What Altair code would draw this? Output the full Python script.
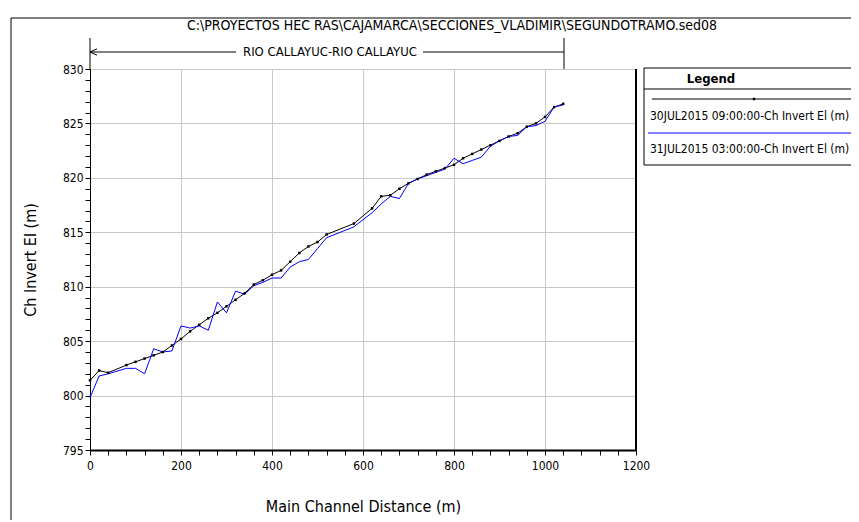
import altair as alt
import pandas as pd

# ---------------- data ----------------
stations = [0, 20, 40, 80, 100, 120, 140, 160, 180, 200,
            220, 240, 260, 280, 300, 320, 340, 360, 380, 400,
            420, 440, 460, 480, 500, 520, 580, 620, 640, 660,
            680, 700, 720, 740, 760, 780, 800, 820, 840, 860,
            880, 900, 920, 940, 960, 980, 1000, 1020, 1040]
invert_30jul = [801.4, 802.3, 802.1, 802.8, 803.1, 803.4, 803.7, 804.0, 804.6, 805.2,
                805.9, 806.5, 807.1, 807.6, 808.2, 808.8, 809.4, 810.2, 810.6, 811.1,
                811.5, 812.3, 813.1, 813.7, 814.1, 814.8, 815.8, 817.2, 818.3, 818.4,
                819.0, 819.5, 819.9, 820.3, 820.6, 820.9, 821.2, 821.8, 822.2, 822.6,
                823.0, 823.4, 823.8, 824.1, 824.7, 825.0, 825.6, 826.5, 826.8]
invert_31jul = [799.8, 801.8, 802.0, 802.5, 802.5, 802.0, 804.3, 804.0, 804.1, 806.4,
                806.2, 806.4, 806.0, 808.6, 807.6, 809.6, 809.3, 810.1, 810.4, 810.8,
                810.8, 811.8, 812.3, 812.5, 813.5, 814.5, 815.5, 816.8, 817.6, 818.3,
                818.1, 819.5, 819.9, 820.2, 820.5, 820.8, 821.8, 821.3, 821.6, 821.9,
                822.9, 823.4, 823.8, 823.9, 824.7, 824.8, 825.2, 826.5, 826.7]
series_names = ["30JUL2015 09:00:00-Ch Invert El (m)",
                "31JUL2015 03:00:00-Ch Invert El (m)"]
series_colors = ["black", "#0000ff"]
x_tick_values = list(range(0, 1201, 40))
y_tick_values = list(range(795, 831))
title_text = "C:\\PROYECTOS HEC RAS\\CAJAMARCA\\SECCIONES_VLADIMIR\\SEGUNDOTRAMO.sed08"
reach_text = "RIO CALLAYUC-RIO CALLAYUC"
legend_title = "Legend"
x_title = "Main Channel Distance (m)"
y_title = "Ch Invert El (m)"

# ---------------- build ----------------
W, H = 546, 381
FONT = "Liberation Sans Narrow, Arial Narrow, DejaVu Sans Condensed, sans-serif"
n = len(stations)
df = pd.DataFrame({
    "dist": stations * 2,
    "elev": invert_30jul + invert_31jul,
    "series": [series_names[0]] * n + [series_names[1]] * n,
})

x_enc = alt.X("dist:Q", scale=alt.Scale(domain=[0, 1200], nice=False, zero=False),
              axis=alt.Axis(values=x_tick_values, tickCount=200, format="d",
                            labelExpr="datum.value % 200 === 0 ? datum.label : ''",
                            gridOpacity={"condition": {"test": "datum.value % 200 === 0", "value": 1}, "value": 0},
                            gridColor="#c8c8c8", gridWidth=1,
                            tickColor="black", tickSize=5, domainColor="black", domainWidth=2,
                            labelFont=FONT, labelFontSize=12, labelColor="black", labelPadding=5,
                            labelOverlap=False, labelFlush=False,
                            title=x_title, titleFont=FONT, titleFontSize=16, titleFontWeight="normal",
                            titleColor="black", titleY=48))
y_enc = alt.Y("elev:Q", scale=alt.Scale(domain=[795, 830], nice=False, zero=False),
              axis=alt.Axis(values=y_tick_values, tickCount=200, format="d",
                            labelExpr="datum.value % 5 === 0 ? datum.label : ''",
                            gridOpacity={"condition": {"test": "datum.value % 5 === 0", "value": 1}, "value": 0},
                            gridColor="#c8c8c8", gridWidth=1,
                            tickColor="black", tickSize=5, domainColor="black", domainWidth=1,
                            labelFont=FONT, labelFontSize=12, labelColor="black", labelPadding=2,
                            labelOverlap=False, labelFlush=False,
                            title=y_title, titleFont=FONT, titleFontSize=16, titleFontWeight="normal",
                            titleColor="black", titleX=-52, titleY=H / 2, titleAngle=-90))
color_enc = alt.Color("series:N", scale=alt.Scale(domain=series_names, range=series_colors), legend=None)

base = alt.Chart(df)
lines = base.mark_line(strokeWidth=1).encode(x=x_enc, y=y_enc, color=color_enc, detail="series:N")
pts = base.transform_filter(alt.datum.series == series_names[0]).mark_point(
    filled=True, shape="square", size=6, color="black", opacity=1).encode(x="dist:Q", y="elev:Q")

one = pd.DataFrame({"k": [0]})
def deco():
    return alt.Chart(one)

def rule(x1, x2, y1, y2, color="black", w=1):
    return deco().mark_rule(color=color, strokeWidth=w).encode(
        x=alt.value(x1), x2=alt.value(x2), y=alt.value(y1), y2=alt.value(y2))

def text(t, x, y, size=13, align="center", weight="normal"):
    return alt.Chart(pd.DataFrame({"t": [t]})).mark_text(
        font=FONT, fontSize=size, align=align, baseline="middle", color="black", fontWeight=weight
    ).encode(text="t:N", x=alt.value(x), y=alt.value(y))

# outer frame
frame = rule(-79, 800, -51, -51) + rule(-79, -79, -51, 470)
# right plot border (thicker)
right_border = rule(W, W, 0, H, w=2)
# title
title = text(title_text, 362, -43, size=14)
# reach bracket
bracket = (rule(0, 146, -17, -17) + rule(333, 474, -17, -17)
           + rule(0, 0, -31, 0) + rule(474, 474, -31, 0)
           + deco().mark_point(shape="M -1 0 L 1 -0.9 M -1 0 L 1 0.9", filled=False, size=49,
                               color="black", strokeWidth=1, opacity=1).encode(x=alt.value(3.5), y=alt.value(-17))
           + text(reach_text, 240, -17, size=13))
# legend box
legend_box = deco().mark_rect(fill="white", stroke="black", strokeWidth=1).encode(
    x=alt.value(554), x2=alt.value(830), y=alt.value(-1), y2=alt.value(96))
legend = (legend_box
          + rule(554, 830, 20, 20)
          + text(legend_title, 621, 10, size=13, weight="bold")
          + rule(562, 830, 30, 30, color=series_colors[0])
          + deco().mark_point(filled=True, shape="square", size=6, color="black", opacity=1).encode(
              x=alt.value(664), y=alt.value(30))
          + text(series_names[0], 560, 47, size=12, align="left")
          + rule(558, 830, 64, 64, color=series_colors[1])
          + text(series_names[1], 560, 80, size=12, align="left"))

chart = alt.layer(lines, pts, right_border, frame, title, bracket, legend).properties(
    width=W, height=H,
    autosize=alt.AutoSizeParams(type="none"),
    padding={"left": 82, "top": 61, "right": 215, "bottom": 70},
).configure_view(stroke="black", strokeWidth=1).configure(background="white")

chart.save("out.html", embed_options={"renderer": "svg", "actions": False})
